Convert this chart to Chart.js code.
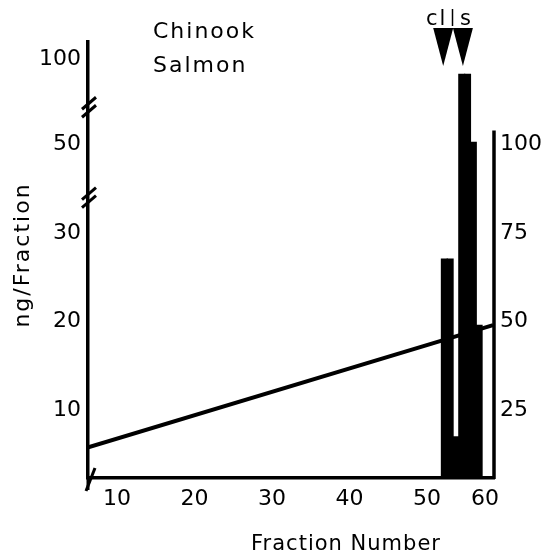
<!DOCTYPE html>
<html>
<head>
<meta charset="utf-8">
<script src="https://cdn.jsdelivr.net/npm/chart.js@4"></script>
<style>
  body { margin: 0; background: #fff; }
  canvas { display: block; }
</style>
</head>
<body>
<canvas id="myChart" width="546" height="558"></canvas>
<script>
// data
var fractions = [53, 54, 55, 56, 57, 58, 59];
var ngPerFraction = [27.1, 27.1, 7, 91.5, 91.5, 51.5, 19.6];
var lineFractions = [6.3, 61.4];
var linePercent = [14.5, 49];
var xTickLabels = [10, 20, 30, 40, 50, 60];
var leftTickLabels = [10, 20, 30, 50, 100];
var rightTickLabels = [25, 50, 75, 100];

// the hand drawn axes are not linear: x squeezes after 50, y is broken twice
function xPos(f) {
  return f <= 50 ? f : 50 + (f - 50) * 0.748;
}
var ngAnchors = [[0, 0], [30, 75], [50, 100], [100, 124]];
function ngPos(v) {
  for (var i = 1; i < ngAnchors.length; i++) {
    var a = ngAnchors[i - 1], b = ngAnchors[i];
    if (v <= b[0] || i == ngAnchors.length - 1) {
      return a[1] + (v - a[0]) * (b[1] - a[1]) / (b[0] - a[0]);
    }
  }
}

var barData = fractions.map(function(f, i) { return {x: xPos(f), y: ngPos(ngPerFraction[i])}; });
var lineData = lineFractions.map(function(f, i) { return {x: xPos(f), y: linePercent[i]}; });

var FONT = 'DejaVu Sans';

var decor = {
  id: 'decor',
  afterDraw: function(chart) {
    var ctx = chart.ctx;
    var area = chart.chartArea;
    var y = chart.scales.y;
    var x = chart.scales.x;
    ctx.save();
    ctx.strokeStyle = '#000';
    ctx.fillStyle = '#000';
    ctx.lineCap = 'butt';

    // left axis runs a bit below the x axis, with a slash
    ctx.lineWidth = 3;
    ctx.beginPath();
    ctx.moveTo(area.left, area.bottom);
    ctx.lineTo(area.left, area.bottom + 12);
    ctx.stroke();
    ctx.beginPath();
    ctx.moveTo(area.left - 2, area.bottom + 13);
    ctx.lineTo(area.left + 7, area.bottom - 10);
    ctx.stroke();

    // axis breaks
    [ngPos(38), ngPos(72)].forEach(function(p) {
      var py = y.getPixelForValue(p);
      for (var k = -1; k <= 1; k += 2) {
        ctx.beginPath();
        ctx.moveTo(area.left - 6, py + 6 + k * 4);
        ctx.lineTo(area.left + 8, py - 6 + k * 4);
        ctx.stroke();
      }
    });

    // right axis only reaches 100 %
    ctx.lineWidth = 3.5;
    ctx.beginPath();
    ctx.moveTo(area.right, y.getPixelForValue(104));
    ctx.lineTo(area.right, area.bottom + 1);
    ctx.stroke();

    // marker triangles
    [52.8, 56.2].forEach(function(f) {
      var px = x.getPixelForValue(xPos(f));
      ctx.beginPath();
      ctx.moveTo(px - 10, 28);
      ctx.lineTo(px + 10, 28);
      ctx.lineTo(px, 66);
      ctx.closePath();
      ctx.fill();
    });
    ctx.font = '21px "' + FONT + '"';
    ctx.textBaseline = 'alphabetic';
    ctx.textAlign = 'left';
    ctx.letterSpacing = '2px';
    ctx.fillText('cl', 426, 25);
    ctx.fillText('s', 460, 25);
    ctx.lineWidth = 1.5;
    ctx.beginPath();
    ctx.moveTo(452.5, 9);
    ctx.lineTo(452.5, 26);
    ctx.stroke();

    // species label
    ctx.font = '22px "' + FONT + '"';
    ctx.letterSpacing = '2px';
    ctx.fillText('Chinook', 153, 38);
    ctx.fillText('Salmon', 153, 72);

    // axis titles
    ctx.font = '21px "' + FONT + '"';
    ctx.letterSpacing = '1px';
    ctx.textAlign = 'center';
    ctx.fillText('Fraction Number', 346, 550);
    ctx.translate(29, 255);
    ctx.rotate(-Math.PI / 2);
    ctx.font = '22px "' + FONT + '"';
    ctx.letterSpacing = '2px';
    ctx.fillText('ng/Fraction', 0, 0);
    ctx.restore();
  }
};

var ctx = document.getElementById('myChart').getContext('2d');
new Chart(ctx, {
  type: 'bar',
  data: {
    datasets: [{
      type: 'line',
      data: lineData,
      yAxisID: 'y2',
      borderColor: '#000',
      borderWidth: 4,
      pointRadius: 0,
      order: 0
    }, {
      type: 'bar',
      data: barData,
      yAxisID: 'y',
      backgroundColor: '#000',
      borderWidth: 0,
      barThickness: 6.4,
      order: 1
    }]
  },
  plugins: [decor],
  options: {
    responsive: false,
    animation: false,
    layout: { padding: { top: 42, left: 0, right: 0, bottom: 0 } },
    plugins: { legend: { display: false }, tooltip: { enabled: false } },
    scales: {
      x: {
        type: 'linear',
        offset: false,
        min: 6.26,
        max: 58.65,
        grid: { display: false, drawTicks: false, offset: false },
        border: { display: true, width: 3.5, color: '#000' },
        afterFit: function(s) { s.height = 80; },
        afterBuildTicks: function(s) {
          s.ticks = xTickLabels.map(function(v) { return {value: xPos(v)}; });
        },
        ticks: {
          color: '#000',
          padding: 8,
          font: { family: FONT, size: 22 },
          maxRotation: 0,
          callback: function(v, i) { return xTickLabels[i]; }
        }
      },
      y: {
        type: 'linear',
        position: 'left',
        min: 5.8,
        max: 129,
        grid: { display: false, drawTicks: false },
        border: { display: true, width: 3.5, color: '#000' },
        afterFit: function(s) { s.width = 88; },
        afterBuildTicks: function(s) {
          s.ticks = leftTickLabels.map(function(v) { return {value: ngPos(v)}; });
        },
        ticks: {
          color: '#000',
          padding: 7,
          font: { family: FONT, size: 22 },
          callback: function(v, i) { return leftTickLabels[i]; }
        }
      },
      y2: {
        type: 'linear',
        position: 'right',
        min: 5.8,
        max: 129,
        grid: { display: false, drawTicks: false },
        border: { display: false },
        afterFit: function(s) { s.width = 52; },
        afterBuildTicks: function(s) {
          s.ticks = rightTickLabels.map(function(v) { return {value: v}; });
        },
        ticks: {
          color: '#000',
          padding: 6,
          font: { family: FONT, size: 22 }
        }
      }
    }
  }
});
</script>
</body>
</html>
